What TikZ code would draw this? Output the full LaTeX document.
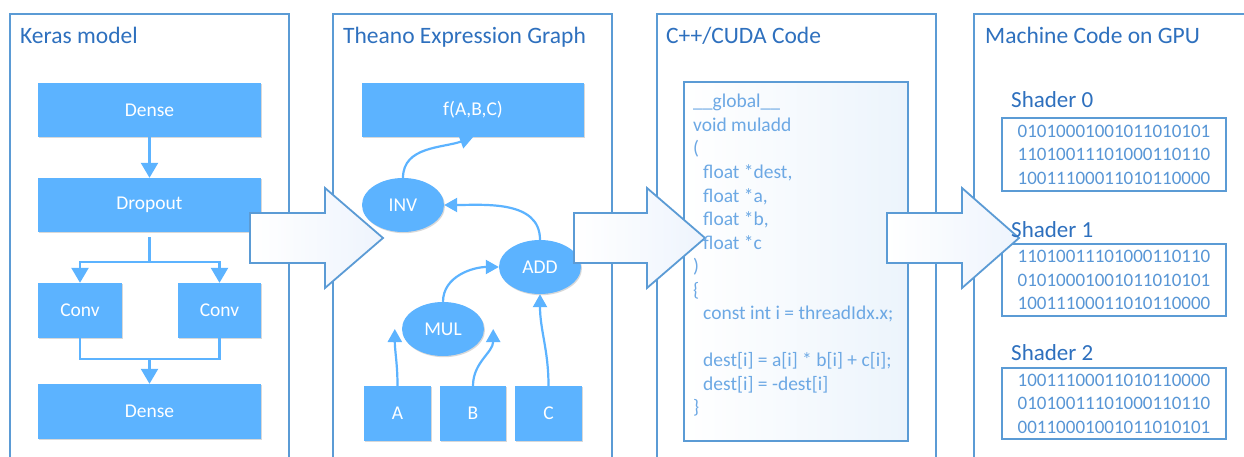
\documentclass[tikz,border=0pt]{standalone}
\usepackage{fontspec}
\setmainfont{Carlito}
\usetikzlibrary{shapes.geometric,shadows,arrows.meta}
\definecolor{panelblue}{RGB}{91,155,213}
\definecolor{titleblue}{RGB}{46,112,190}
\definecolor{boxfill}{RGB}{92,179,255}
\definecolor{codetext}{RGB}{108,168,228}
\definecolor{bintext}{RGB}{88,150,214}
\definecolor{arrowfill}{RGB}{238,244,253}
\definecolor{codebg}{RGB}{236,244,252}
\tikzset{
 panel/.style={draw=panelblue, line width=2pt},
 ptitle/.style={anchor=base west, text=titleblue, font=\fontsize{23.5}{27}\selectfont, inner sep=0pt},
 blk/.style={fill=boxfill, text=white, font=\fontsize{19.5}{22}\selectfont, inner sep=0pt,
   drop shadow={opacity=0.3, shadow xshift=1pt, shadow yshift=-1.2pt}},
 opnode/.style={blk, ellipse, minimum width=82pt, minimum height=54pt},
 link/.style={color=boxfill, line width=2.4pt, -{Triangle[width=17pt,length=15pt]}},
 plain/.style={color=boxfill, line width=2.4pt},
 glink/.style={color=boxfill, line width=2.2pt, -{Triangle[width=14pt,length=13pt]}},
 bigarrow/.style={draw=panelblue, line width=1.8pt, left color=white, right color=arrowfill},
 codeline/.style={anchor=base west, text=codetext, font=\fontsize{19.5}{23}\selectfont, inner sep=0pt},
 shlabel/.style={anchor=base west, text=titleblue, font=\fontsize{23}{26}\selectfont, inner sep=0pt},
 binbox/.style={draw=panelblue, line width=1.5pt, text=bintext, align=center,
   font=\fontsize{19}{23.5}\selectfont, minimum width=224pt, inner sep=0pt},
}
\begin{document}
\begin{tikzpicture}[x=1pt,y=-1pt]
\useasboundingbox (0,0) rectangle (1244,457);
\clip (0,0) rectangle (1244,457);
\fill[white] (0,0) rectangle (1244,457);

% panels
\draw[panel] (10,14) rectangle (289,470);
\draw[panel] (333,14) rectangle (612,470);
\draw[panel] (657,14) rectangle (936,470);
\draw[panel] (974,14) rectangle (1262,470);

\node[ptitle] (t1) at (20,44) {Keras model};
\node[ptitle] (t2) at (343,44) {Theano Expression Graph};
\node[ptitle] (t3) at (666,44) {C++/CUDA Code};
\node[ptitle] (t4) at (985,44) {Machine Code on GPU};

% Keras model
\node[blk, minimum width=223pt, minimum height=54pt] (dense1) at (149.5,110) {Dense};
\node[blk, minimum width=223pt, minimum height=54pt] (drop) at (149.5,205) {Dropout};
\node[blk, minimum width=84pt, minimum height=55pt] (conv1) at (80,310.5) {Conv};
\node[blk, minimum width=83pt, minimum height=55pt] (conv2) at (219.5,310.5) {Conv};
\node[blk, minimum width=223pt, minimum height=55pt] (dense2) at (149.5,411.5) {Dense};
\coordinate (split) at (149.5,262);
\coordinate (merge) at (149.5,359);
\draw[link] (dense1.south) -- (drop.north);
\draw[plain] ([yshift=-5pt]drop.south) -- (split);
\draw[link] (split) -| (conv1.north);
\draw[link] (split) -| (conv2.north);
\draw[plain] (conv1.south) |- (merge);
\draw[plain] (conv2.south) |- (merge);
\draw[link] (merge) -- (dense2.north);

% Theano graph
\node[blk, minimum width=222pt, minimum height=54pt] (f) at (473,110) {f(A,B,C)};
\node[opnode] (inv) at (403,205) {INV};
\node[opnode] (add) at (540,267) {ADD};
\node[opnode] (mul) at (443,329) {MUL};
\node[blk, minimum width=67pt, minimum height=55pt] (a) at (397.5,413.5) {A};
\node[blk, minimum width=66pt, minimum height=55pt] (b) at (473,413.5) {B};
\node[blk, minimum width=67pt, minimum height=55pt] (c) at (548.5,413.5) {C};
\draw[glink] (inv.north) to[out=90,in=-160] (f.south);
\draw[glink] (add.north) to[out=90,in=0] (inv.east);
\draw[glink] (mul.north) to[out=90,in=180] (add.west);
\draw[glink] (a.north) to[out=90,in=-90] ([xshift=-7pt]mul.west);
\draw[glink] (b.north) to[out=90,in=-90] ([xshift=9pt]mul.east);
\draw[glink] (c.north) to[out=90,in=-90] (add.south);

% code box
\draw[draw=panelblue, line width=1.8pt, left color=white, right color=codebg] (684,82) rectangle (908,441);

% shader boxes
\node[binbox, minimum height=73pt] (s0) at (1114,154.5) {01010001001011010101\\11010011101000110110\\10011100011010110000};
\node[binbox, minimum height=72pt] (s1) at (1114,280) {11010011101000110110\\01010001001011010101\\10011100011010110000};
\node[binbox, minimum height=71pt] (s2) at (1114,403.5) {10011100011010110000\\01010011101000110110\\00110001001011010101};

% big arrows
\draw[bigarrow] (250,213) -- (325,213) -- (325,188) -- (383,238) -- (325,288) -- (325,263) -- (250,263) -- cycle;
\draw[bigarrow] (574,213) -- (647,213) -- (647,188) -- (705,238) -- (647,288) -- (647,263) -- (574,263) -- cycle;
\draw[bigarrow] (887,213) -- (962,213) -- (962,188) -- (1019,238) -- (962,288) -- (962,263) -- (887,263) -- cycle;

% code text
\node[codeline] (l1) at (693,108) {\_\_global\_\_};
\node[codeline] (l2) at (693,131.5) {void muladd};
\node[codeline] (l3) at (693,155) {(};
\node[codeline] (l4) at (703,178.5) {float *dest,};
\node[codeline] (l5) at (703,202) {float *a,};
\node[codeline] (l6) at (703,225.5) {float *b,};
\node[codeline] (l7) at (703,249) {float *c};
\node[codeline] (l8) at (693,272.5) {)};
\node[codeline] (l9) at (693,296) {\{};
\node[codeline] (l10) at (703,319.5) {const int i = threadIdx.x;};
\node[codeline] (l11) at (703,366.5) {dest[i] = a[i] * b[i] + c[i];};
\node[codeline] (l12) at (703,390) {dest[i] = -dest[i]};
\node[codeline] (l13) at (693,413.5) {\}};

% shader labels
\node[shlabel] (sh0) at (1011,108) {Shader 0};
\node[shlabel] (sh1) at (1011,237) {Shader 1};
\node[shlabel] (sh2) at (1011,360) {Shader 2};
\end{tikzpicture}
\end{document}
